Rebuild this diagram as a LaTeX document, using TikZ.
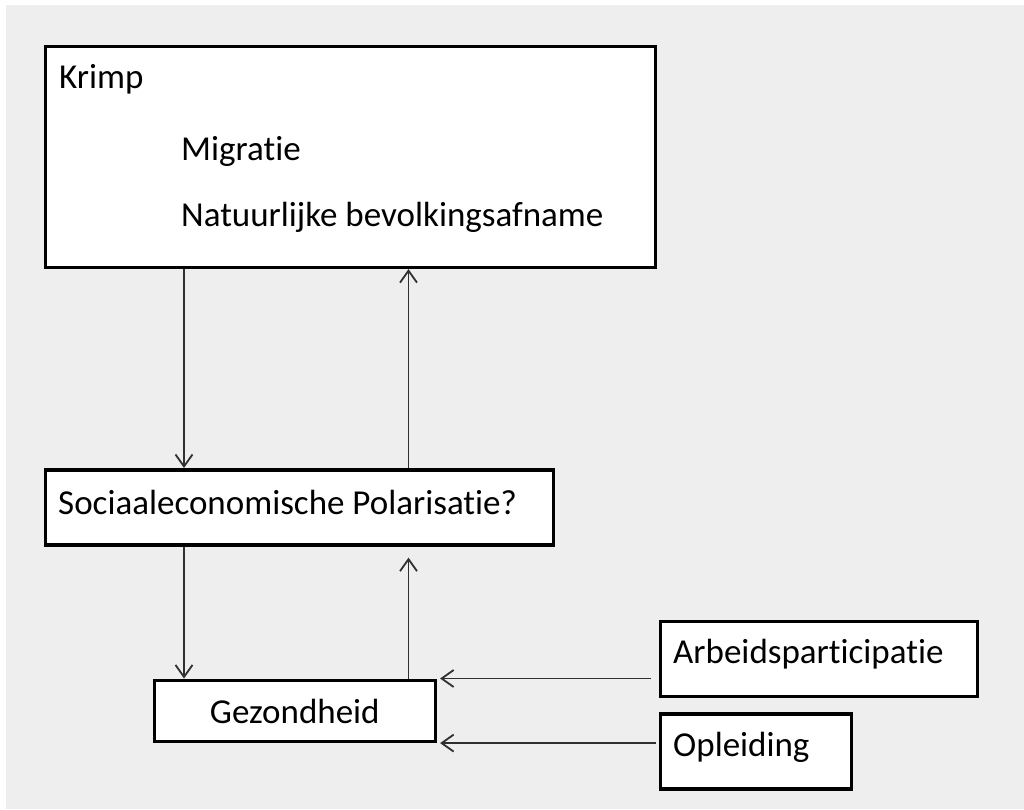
\documentclass[tikz,border=0pt]{standalone}
\usepackage{fontspec}
\setmainfont{Carlito}[Ligatures={NoCommon,NoRequired,NoContextual}]
\usepackage{xcolor}
\usepackage{tikz}
\usetikzlibrary{positioning,arrows.meta,calc}

\definecolor{bggray}{HTML}{EEEEEE}
\definecolor{arrgray}{HTML}{303030}

\begin{document}
\begin{tikzpicture}[
		x=1pt, y=-1pt,
		font=\fontsize{35}{42}\selectfont,
		box/.style={draw, line width=3.6pt, fill=white, anchor=north west, inner sep=0pt},
		txt/.style={anchor=base west, inner sep=0pt},
		arr/.style={-{Straight Barb[length=12pt,width=17pt]}, line width=1.8pt, draw=arrgray}
		]
		\useasboundingbox (0,0) rectangle (1024,809);
		\fill[bggray] (6,5) rectangle (1024,809);
		\node[box, minimum width=610pt, minimum height=221pt] (krimp) at (43.5,44.5) {};
		\node[box, minimum width=508pt, minimum height=75pt] (socio) at (43.5,468) {};
		\node[box, minimum width=281pt, minimum height=61pt] (gezond) at (152.5,678.5) {};
		\node[box, minimum width=317pt, minimum height=75pt] (arbeid) at (658.5,619.5) {};
		\node[box, minimum width=191pt, minimum height=75pt] (opleid) at (658.5,712) {};
		\node[txt] (krimptxt) at (59,88) {Krimp};
		\node[txt] (migr) at (181,160) {Migratie};
		\node[txt] (natuur) at (181,226) {Natuurlijke bevolkingsafname};
		\node[txt] (sociotxt) at (58,514) {Sociaaleconomische Polarisatie?};
		\node[anchor=base, inner sep=0pt] (gezondtxt) at ($(gezond.north)!0.5!(gezond.south)+(0,13)$) {Gezondheid};
		\node[txt] (arbeidtxt) at (673,663) {Arbeidsparticipatie};
		\node[txt] (opleidtxt) at (673,756) {Opleiding};
		\coordinate (xa) at (184,0);
		\coordinate (xb) at (408.5,0);
		\draw[arr] (krimp.south -| xa) -- (socio.north -| xa);
		\draw[arr] (socio.north -| xb) -- (krimp.south -| xb);
		\draw[arr] (socio.south -| xa) -- (gezond.north -| xa);
		\draw[arr, shorten >=11pt] (gezond.north -| xb) -- (socio.south -| xb);
		\draw[arr, shorten <=8pt, shorten >=3pt] (arbeid.west |- gezond.north east) -- (gezond.north east);
		\draw[arr, shorten <=3pt, shorten >=3pt] (opleid.west |- gezond.south east) -- (gezond.south east);
	\end{tikzpicture}
\end{document}
